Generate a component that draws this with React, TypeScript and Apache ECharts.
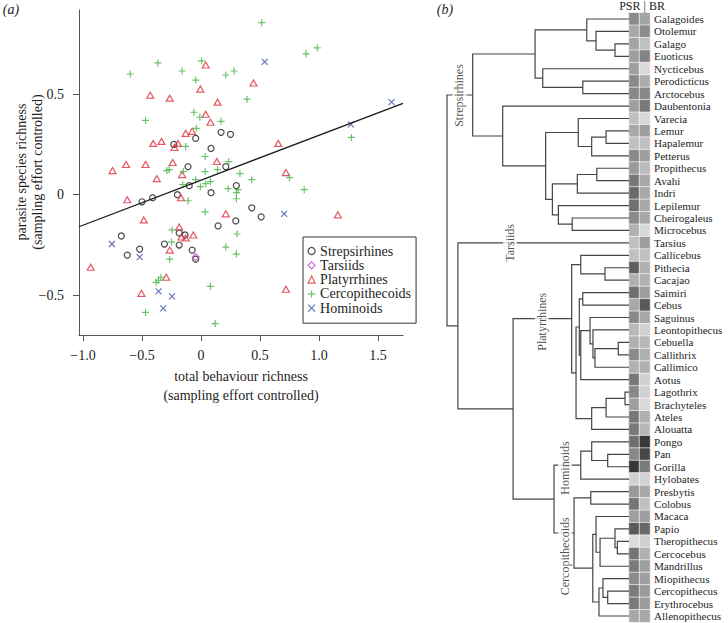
import React, { useEffect, useRef } from 'react';
import * as echarts from 'echarts';

const FONT = '"Liberation Serif", "Times New Roman", Times, serif';
const INK = '#1e1e1e';
const AXIS = '#555555';

// ---------- Panel (a): scatter ----------
const strepsirhines = [
  [-0.23, 0.25], [-0.045, 0.28], [0.17, 0.31], [0.25, 0.30], [0.085, 0.23], [-0.11, 0.14], [0.21, 0.14],
  [0.30, 0.045], [-0.10, 0.045], [0.085, 0.01], [-0.20, 0.0], [-0.41, -0.015], [-0.50, -0.035], [0.43, -0.065],
  [0.51, -0.11], [0.145, -0.155], [0.295, -0.13], [-0.675, -0.205], [-0.52, -0.27], [-0.625, -0.30],
  [-0.185, -0.19], [-0.135, -0.20], [-0.31, -0.245], [-0.185, -0.25], [-0.075, -0.275], [-0.045, -0.32]
];
const tarsiids = [[-0.045, -0.31]];
const platyrrhines = [
  [0.04, 0.645], [-0.43, 0.495], [-0.265, 0.48], [-0.005, 0.525], [0.14, 0.46], [0.04, 0.40], [0.08, 0.36],
  [-0.13, 0.305], [-0.075, 0.315], [-0.405, 0.255], [-0.335, 0.265], [-0.225, 0.235], [-0.195, 0.255],
  [-0.635, 0.15], [-0.47, 0.15], [-0.75, 0.12], [-0.24, 0.16], [-0.375, 0.08], [-0.16, 0.10], [0.135, 0.165],
  [0.445, 0.555], [0.655, 0.255], [0.72, 0.11], [-0.625, -0.025], [-0.17, -0.015], [-0.485, -0.125],
  [0.21, -0.095], [-0.185, -0.16], [-0.065, -0.2], [-0.165, -0.21], [-0.13, -0.215], [-0.265, -0.275],
  [-0.935, -0.36], [-0.295, -0.41], [-0.505, -0.49], [1.16, -0.10], [0.72, -0.47]
];
const cercopithecoids = [
  [-0.365, 0.655], [-0.60, 0.60], [-0.16, 0.615], [0.005, 0.665], [-0.045, 0.57], [0.21, 0.595], [0.28, 0.615],
  [0.39, 0.475], [-0.47, 0.37], [-0.06, 0.41], [-0.01, 0.385], [0.17, 0.365], [-0.04, 0.33], [-0.13, 0.24],
  [0.035, 0.19], [0.235, 0.165], [-0.27, 0.125], [-0.29, 0.12], [-0.15, 0.115], [0.035, 0.115], [0.14, 0.125],
  [0.33, 0.105], [-0.045, 0.075], [0.515, 0.855], [0.89, 0.70], [0.985, 0.73], [1.275, 0.285], [0.43, 0.075],
  [0.75, 0.085], [0.875, 0.025], [0.04, 0.055], [0.08, 0.065], [-0.155, 0.05], [-0.005, 0.04], [0.23, 0.03],
  [0.315, 0.025], [0.30, 0.01], [0.30, -0.02], [-0.11, -0.03], [0.035, -0.085], [-0.245, -0.175],
  [0.305, -0.195], [-0.25, -0.235], [0.21, -0.26], [0.30, -0.295], [-0.265, -0.32], [-0.34, -0.41],
  [-0.36, -0.425], [-0.38, -0.435], [0.08, -0.455], [-0.47, -0.585], [0.12, -0.64]
];
const hominoids = [
  [0.54, 0.66], [1.615, 0.46], [1.27, 0.35], [0.705, -0.095], [-0.755, -0.245], [-0.52, -0.31],
  [-0.36, -0.48], [-0.245, -0.505], [-0.32, -0.565]
];
const regIntercept = 0.072;
const regSlope = 0.2234;
const xRange = [-1.034, 1.712];
const yRange = [-0.697, 0.918];
const xTicks = [-1, -0.5, 0, 0.5, 1, 1.5];
const yTicks = [-0.5, 0, 0.5];

// ---------- Panel (b): phylogeny + heat columns ----------
const taxa = [
  'Galagoides', 'Otolemur', 'Galago', 'Euoticus', 'Nycticebus', 'Perodicticus', 'Arctocebus', 'Daubentonia',
  'Varecia', 'Lemur', 'Hapalemur', 'Petterus', 'Propithecus', 'Avahi', 'Indri', 'Lepilemur', 'Cheirogaleus',
  'Microcebus', 'Tarsius', 'Callicebus', 'Pithecia', 'Cacajao', 'Saimiri', 'Cebus', 'Saguinus',
  'Leontopithecus', 'Cebuella', 'Callithrix', 'Callimico', 'Aotus', 'Lagothrix', 'Brachyteles', 'Ateles',
  'Alouatta', 'Pongo', 'Pan', 'Gorilla', 'Hylobates', 'Presbytis', 'Colobus', 'Macaca', 'Papio',
  'Theropithecus', 'Cercocebus', 'Mandrillus', 'Miopithecus', 'Cercopithecus', 'Erythrocebus', 'Allenopithecus'
];
const psr = [
  0.50, 0.32, 0.34, 0.37, 0.37, 0.50, 0.51, 0.37, 0.17, 0.32, 0.17, 0.50, 0.40, 0.61, 0.70, 0.66, 0.50,
  0.27, 0.17, 0.17, 0.76, 0.27, 0.66, 0.32, 0.51, 0.22, 0.27, 0.49, 0.27, 0.61, 0.51, 0.37, 0.61,
  0.61, 0.66, 0.51, 1.0, 0.07, 0.41, 0.63, 0.37, 0.80, 0.0, 0.63, 0.60, 0.49, 0.60, 0.60, 0.32
];
const br = [
  0.34, 0.49, 0.17, 0.54, 0.02, 0.29, 0.51, 0.60, 0.02, 0.37, 0.17, 0.37, 0.20, 0.32, 0.32, 0.32, 0.32,
  0.02, 0.37, 0.17, 0.27, 0.27, 0.37, 0.80, 0.32, 0.07, 0.22, 0.27, 0.27, 0.07, 0.07, 0.02, 0.27,
  0.22, 1.0, 0.90, 0.60, 0.07, 0.32, 0.17, 0.37, 0.70, 0.07, 0.27, 0.37, 0.37, 0.40, 0.39, 0.32
];
// node = [depth from root (0) to tips (1), child, child]
const tree: any = [0,
  [0.141,
    [0.484,
      [0.768, 'Galagoides', [0.819, 'Otolemur', [0.923, 'Galago', 'Euoticus']]],
      [0.526, 'Nycticebus', [0.746, 'Perodicticus', 'Arctocebus']]],
    [0.306, 'Daubentonia',
      [0.542,
        [0.721, 'Varecia', [0.795, [0.874, 'Lemur', 'Hapalemur'], 'Petterus']],
        [0.579,
          [0.716, [0.823, 'Propithecus', 'Avahi'], 'Indri'],
          [0.612, 'Lepilemur', [0.688, 'Cheirogaleus', 'Microcebus']]]]]],
  [0.060, 'Tarsius',
    [0.363,
      [0.685,
        [0.735, 'Callicebus', [0.868, 'Pithecia', 'Cacajao']],
        [0.709,
          [0.727, [0.746, 'Saimiri', 'Cebus'],
            [0.735, [0.786, 'Saguinus', [0.802, 'Leontopithecus', [0.813, [0.941, 'Cebuella', 'Callithrix'], 'Callimico']]], 'Aotus']],
          [0.795, [0.874, [0.978, 'Lagothrix', 'Brachyteles'], 'Ateles'], 'Alouatta']]],
      [0.588,
        [0.735, [0.795, 'Pongo', [0.883, 'Pan', 'Gorilla']], 'Hylobates'],
        [0.698,
          [0.790, 'Presbytis', 'Colobus'],
          [0.801,
            [0.819, 'Macaca', [0.841, [0.923, 'Papio', [0.936, 'Theropithecus', 'Cercocebus']], 'Mandrillus']],
            [0.835, [0.857, 'Miopithecus', [0.883, 'Cercopithecus', 'Erythrocebus']], 'Allenopithecus']]]]]]
];
const cladeNames = ['Strepsirhines', 'Tarsiids', 'Platyrrhines', 'Hominoids', 'Cercopithecoids'];
// label anchor (depth, row) — layout only
const cladeAnchor = [[0.068, 6.15], [0.346, 18], [0.52, 24.34], [0.648, 36.1], [0.648, 43.2]];

function treeSegments(root: any) {
  const segs: number[][][] = [];
  const walk = (n: any): { d: number; y: number } => {
    if (typeof n === 'string') return { d: 1, y: taxa.indexOf(n) };
    const [d, a, b] = n;
    const ca = walk(a);
    const cb = walk(b);
    segs.push([[ca.d, ca.y], [d, ca.y], [d, cb.y], [cb.d, cb.y]]);
    return { d, y: (ca.y + cb.y) / 2 };
  };
  walk(root);
  return segs;
}

const ROW_TOP = 12.8;
const ROW_H = 609.4;

function buildOption() {
  const fmt = (v: number, dec: boolean) =>
    v === 0 ? '0' : (v < 0 ? '\u2212' : '') + (dec ? Math.abs(v).toFixed(1) : String(Math.abs(v)));
  const scat = (name: string, data: number[][], symbol: string, size: any, color: string) => ({
    type: 'scatter', name, data, symbol, symbolSize: size, xAxisIndex: 0, yAxisIndex: 0,
    itemStyle: { color: 'transparent', borderColor: color, borderWidth: 1.2 },
    emphasis: { disabled: true }, silent: true, z: 3
  });
  const heat: any[] = [];
  taxa.forEach((_, i) => { heat.push([0, i, psr[i]]); heat.push([1, i, br[i]]); });
  const t = (text: string, x: number, y: number, extra: any = {}) => ({
    type: 'text', x, y, z: 50, rotation: extra.rotation || 0,
    style: { text, fill: INK, font: extra.font || `14px ${FONT}`, align: 'center', verticalAlign: 'middle' }
  });

  return {
    animation: false,
    backgroundColor: '#ffffff',
    grid: [
      { left: 79, top: 10, width: 324, height: 325 },
      { left: 629, top: ROW_TOP, width: 21, height: ROW_H },
      { left: 447, top: ROW_TOP, width: 182, height: ROW_H }
    ],
    xAxis: [
      {
        type: 'value', gridIndex: 0, min: xRange[0], max: xRange[1], splitLine: { show: false },
        axisLine: { show: true, onZero: false, lineStyle: { color: AXIS, width: 1 } },
        axisTick: { show: true, length: 6, customValues: xTicks, lineStyle: { color: AXIS } },
        axisLabel: { customValues: xTicks, formatter: (v: number) => fmt(v, true), fontSize: 14, fontFamily: FONT, color: INK, margin: 13 }
      },
      { type: 'category', gridIndex: 1, data: ['PSR', 'BR'], show: false },
      { type: 'value', gridIndex: 2, min: 0, max: 1, show: false }
    ],
    yAxis: [
      {
        type: 'value', gridIndex: 0, min: yRange[0], max: yRange[1], splitLine: { show: false },
        axisLine: { show: true, onZero: false, lineStyle: { color: AXIS, width: 1 } },
        axisTick: { show: true, length: 6, customValues: yTicks, lineStyle: { color: AXIS } },
        axisLabel: { customValues: yTicks, formatter: (v: number) => fmt(v, false), fontSize: 14, fontFamily: FONT, color: INK, margin: 15 }
      },
      {
        type: 'category', gridIndex: 1, data: taxa, inverse: true, position: 'right',
        axisLine: { show: false }, axisTick: { show: false },
        axisLabel: { interval: 0, fontSize: 11.1, lineHeight: 11, fontFamily: FONT, color: INK, margin: 4 }
      },
      { type: 'value', gridIndex: 2, min: -0.5, max: 48.5, inverse: true, show: false }
    ],
    visualMap: {
      type: 'continuous', show: false, seriesIndex: 6, min: 0, max: 1,
      inRange: { color: ['#dcdcdc', '#383838'] }
    },
    legend: {
      data: ['Strepsirhines', 'Tarsiids', 'Platyrrhines', 'Cercopithecoids', 'Hominoids'],
      orient: 'vertical', left: 303, top: 237, padding: [7, 5, 8, 4.5], itemGap: 0.3,
      itemWidth: 7, itemHeight: 7, selectedMode: false,
      borderColor: '#333', borderWidth: 1, borderRadius: 0,
      itemStyle: { borderWidth: 1.2 },
      textStyle: { fontSize: 14, fontFamily: FONT, color: INK, lineHeight: 14 }
    },
    series: [
      scat('Strepsirhines', strepsirhines, 'circle', 6, '#1a1a1a'),
      scat('Tarsiids', tarsiids, 'diamond', 7, '#c24cc4'),
      scat('Platyrrhines', platyrrhines, 'triangle', [7, 6], '#e0303c'),
      scat('Cercopithecoids', cercopithecoids, 'path://M5,0L5,10M0,5L10,5', 7, '#44b444'),
      scat('Hominoids', hominoids, 'path://M0,0L10,10M10,0L0,10', 6, '#3f51ad'),
      {
        type: 'line', xAxisIndex: 0, yAxisIndex: 0, showSymbol: false, silent: true, z: 4,
        data: xRange.map((x) => [x, regIntercept + regSlope * x]),
        lineStyle: { color: '#1a1a1a', width: 1.3 }
      },
      {
        type: 'heatmap', xAxisIndex: 1, yAxisIndex: 1, data: heat, silent: true,
        itemStyle: { borderColor: '#ffffff', borderWidth: 0.6 }, emphasis: { disabled: true }
      },
      {
        type: 'lines', coordinateSystem: 'cartesian2d', xAxisIndex: 2, yAxisIndex: 2, polyline: true,
        clip: false, silent: true, z: 2,
        data: treeSegments(tree).map((c) => ({ coords: c })),
        lineStyle: { color: '#454545', width: 1.2, opacity: 1 }
      },
      {
        type: 'scatter', xAxisIndex: 2, yAxisIndex: 2, silent: true, z: 10, symbolSize: 1,
        itemStyle: { color: 'transparent' },
        data: cladeNames.map((n, i) => [cladeAnchor[i][0], cladeAnchor[i][1], n]),
        label: {
          show: true, position: 'inside', rotate: 90, formatter: (p: any) => p.data[2],
          fontSize: 12, lineHeight: 12, fontFamily: FONT, color: INK, backgroundColor: '#ffffff', padding: [1, 2]
        }
      }
    ],
    graphic: [
      t('(a)', 11, 9, { font: `italic 14px ${FONT}` }),
      t('(b)', 445, 9, { font: `italic 14px ${FONT}` }),
      t('PSR | BR', 642, 6, { font: `12px ${FONT}` }),
      t('total behaviour richness', 241, 376),
      t('(sampling effort controlled)', 241, 395),
      t('parasite species richness', 21, 172, { rotation: Math.PI / 2 }),
      t('(sampling effort controlled)', 37, 172, { rotation: Math.PI / 2 })
    ]
  };
}

export default function App() {
  const ref = useRef<HTMLDivElement>(null);
  useEffect(() => {
    const chart = echarts.init(ref.current as HTMLDivElement, undefined, { renderer: 'svg' });
    chart.setOption(buildOption() as any);
    return () => chart.dispose();
  }, []);
  return (
    <div
      ref={ref}
      style={{ position: 'fixed', left: 0, top: 0, width: 728, height: 623, background: '#ffffff' }}
    />
  );
}
